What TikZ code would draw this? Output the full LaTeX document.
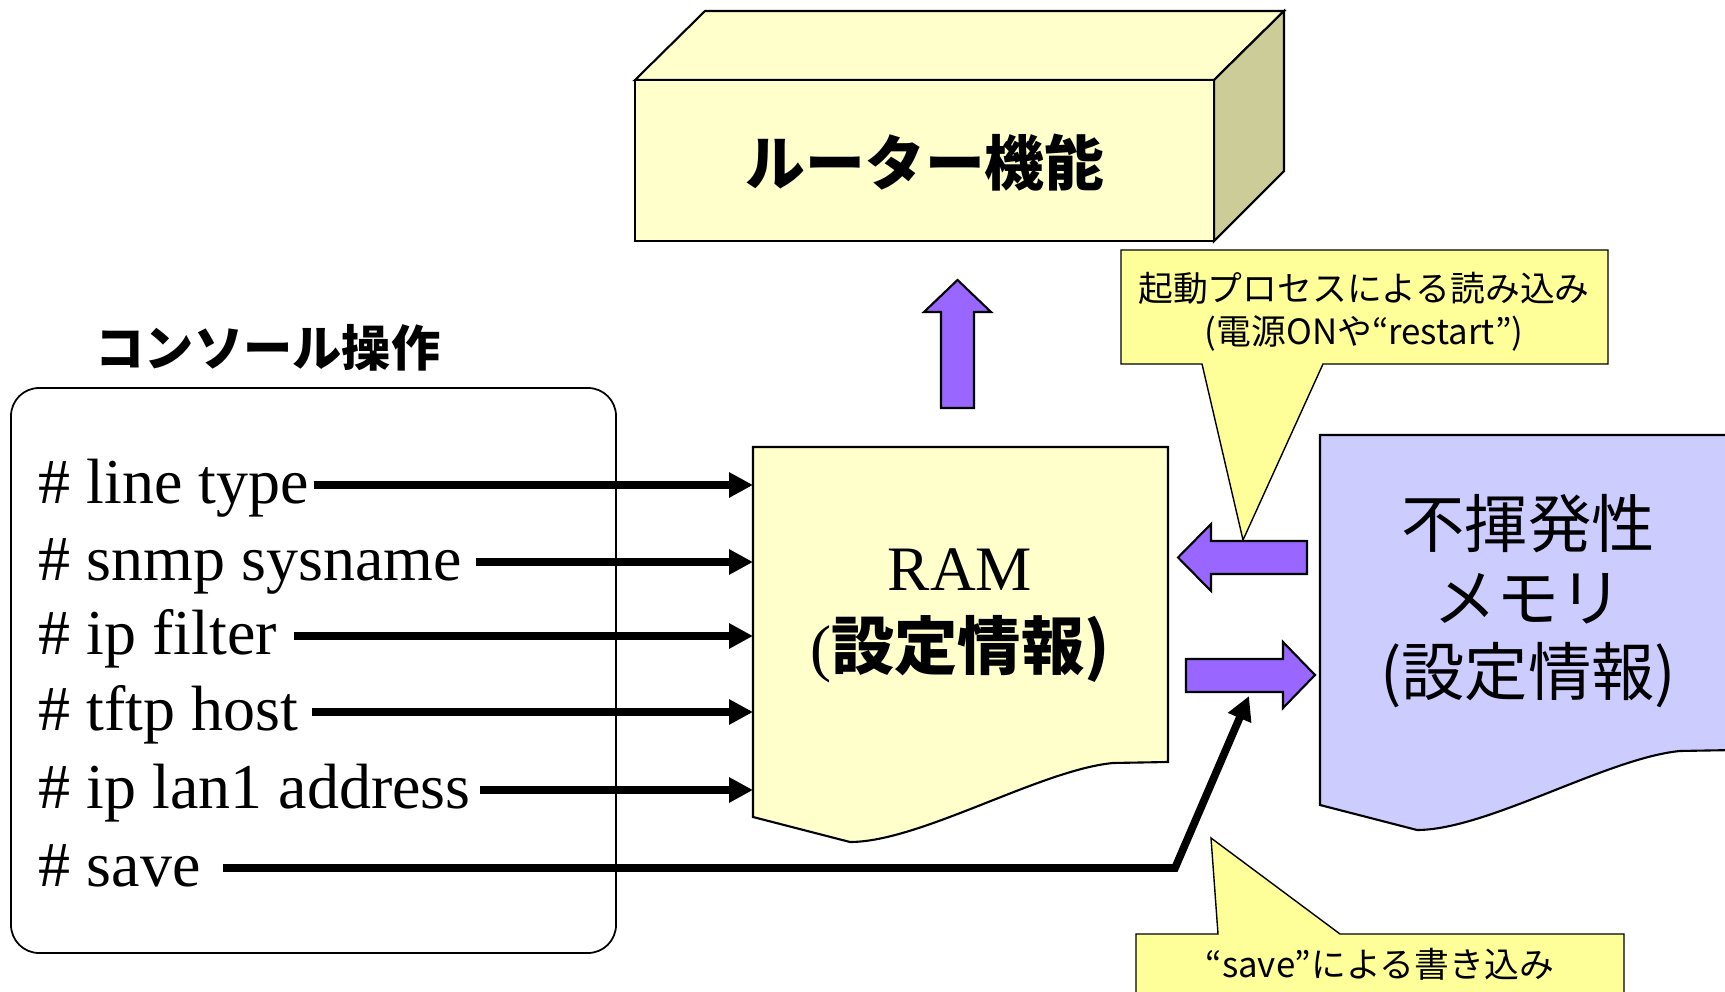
\documentclass[tikz,border=0pt]{standalone}
\usepackage{fontspec}
\setmainfont{Liberation Serif}
\newfontfamily\jpfont{Noto Sans CJK JP}
\usetikzlibrary{arrows.meta,positioning}

\begin{document}
\begin{tikzpicture}[x=0.01cm,y=-0.01cm,line join=miter]
        % Colors
        \definecolor{paleyellow}{HTML}{FFFFCC}
        \definecolor{oliveside}{HTML}{CCCC99}
        \definecolor{lavender}{HTML}{CCCCFF}
        \definecolor{calloutyellow}{HTML}{FFFF99}
        \definecolor{blockpurple}{HTML}{9966FF}
        % Styles
        \tikzstyle{outline}=[draw=black,line width=0.6pt]
        \tikzstyle{command}=[anchor=west,inner sep=0pt,text height=13.6pt,text depth=3pt,font=\fontsize{18.2}{20}\selectfont]
        \tikzstyle{command arrow}=[line width=2.2pt,-{Triangle[length=6.8pt,width=6.8pt]}]
        \tikzstyle{block arrow}=[outline,fill=blockpurple]
        \tikzstyle{callout}=[draw=black,line width=0.4pt,fill=calloutyellow]
        \tikzstyle{callout text}=[align=center,font=\jpfont\fontsize{9.9}{12.2}\selectfont]
        \tikzset{docshape/.pic={\path[outline,pic actions] (0,0) -- (415,0) -- (415,315) -- (360,316)
            .. controls (287,323) and (167,395) .. (97,395) -- (0,370) -- cycle;}}
        \useasboundingbox (0,0) rectangle (1725,992);
        \clip (0,0) rectangle (1725,992);
        % Router box
        \draw[outline,fill=paleyellow] (635,80) -- (705,11) -- (1284,11) -- (1214,80) -- cycle;
        \draw[outline,fill=oliveside] (1214,80) -- (1284,11) -- (1284,171) -- (1214,241) -- cycle;
        \draw[outline,fill=paleyellow] (635,80) rectangle (1214,241);
        \node[font=\jpfont\bfseries\fontsize{17}{20}\selectfont] (router) at (925,163) {ルーター機能};
        \draw[block arrow] (941,408) -- (941,312) -- (924,312) -- (957.5,280) -- (991,312) -- (974,312) -- (974,408) -- cycle;
        % Console
        \node[font=\jpfont\bfseries\fontsize{14}{16}\selectfont] (console title) at (268,348) {コンソール操作};
        \draw[line width=0.5pt,rounded corners=0.28cm] (11,388) rectangle (616,953);
        % RAM
        \pic[fill=paleyellow] at (753,447) {docshape};
        \coordinate (ram left) at (753,447);
        \node[font=\fontsize{18}{20}\selectfont] (ram title) at (960,570) {RAM};
        \node[font=\fontsize{18}{20}\selectfont] (ram info) at (960,649) {(\jpfont\bfseries 設定情報)};
        % Commands
        \foreach \i/\y/\cmd/\gap in {1/485/line type/0.04, 2/562/snmp sysname/0.13, 3/636/ip filter/0.16,
            4/712/tftp host/0.13, 5/790/ip lan1 address/0.09}
        {
            \node[command] (cmd\i) at (38,\y) {\# \cmd};
            \draw[command arrow] ([xshift=\gap cm]cmd\i.east) -- (cmd\i.east -| ram left);
        }
        \node[command] (cmd6) at (38,868) {\# save};
        % Non-volatile memory
        \pic[fill=lavender] at (1320,435) {docshape};
        \node[align=center,font=\jpfont\fontsize{18}{21}\selectfont] (nvm) at (1528,601) {不揮発性\\メモリ\\(設定情報)};
        % Boot callout
        \draw[callout] (1121,250) -- (1608,250) -- (1608,364) -- (1323,364) -- (1243,540) -- (1202,364) -- (1121,364) -- cycle;
        \node[callout text] (boot text) at (1364,312) {起動プロセスによる読み込み\\(電源ONや“restart”)};
        % Load / write arrows
        \draw[block arrow] (1307,541) -- (1211,541) -- (1211,524) -- (1178,557.5) -- (1211,591) -- (1211,574) -- (1307,574) -- cycle;
        \draw[block arrow] (1186,659) -- (1283,659) -- (1283,642) -- (1315,675) -- (1283,708) -- (1283,692) -- (1186,692) -- cycle;
        \coordinate (save bend) at (1175,868);
        \coordinate (save end) at (1249,696);
        \draw[command arrow] ([xshift=0.22cm]cmd6.east) -- (save bend) -- (save end);
        % Save callout
        \draw[callout] (1136,934) -- (1218,934) -- (1211,838) -- (1340,934) -- (1624,934) -- (1624,1010) -- (1136,1010) -- cycle;
        \node[callout text] (save text) at (1380,964) {“save”による書き込み};
\end{tikzpicture}
\end{document}
